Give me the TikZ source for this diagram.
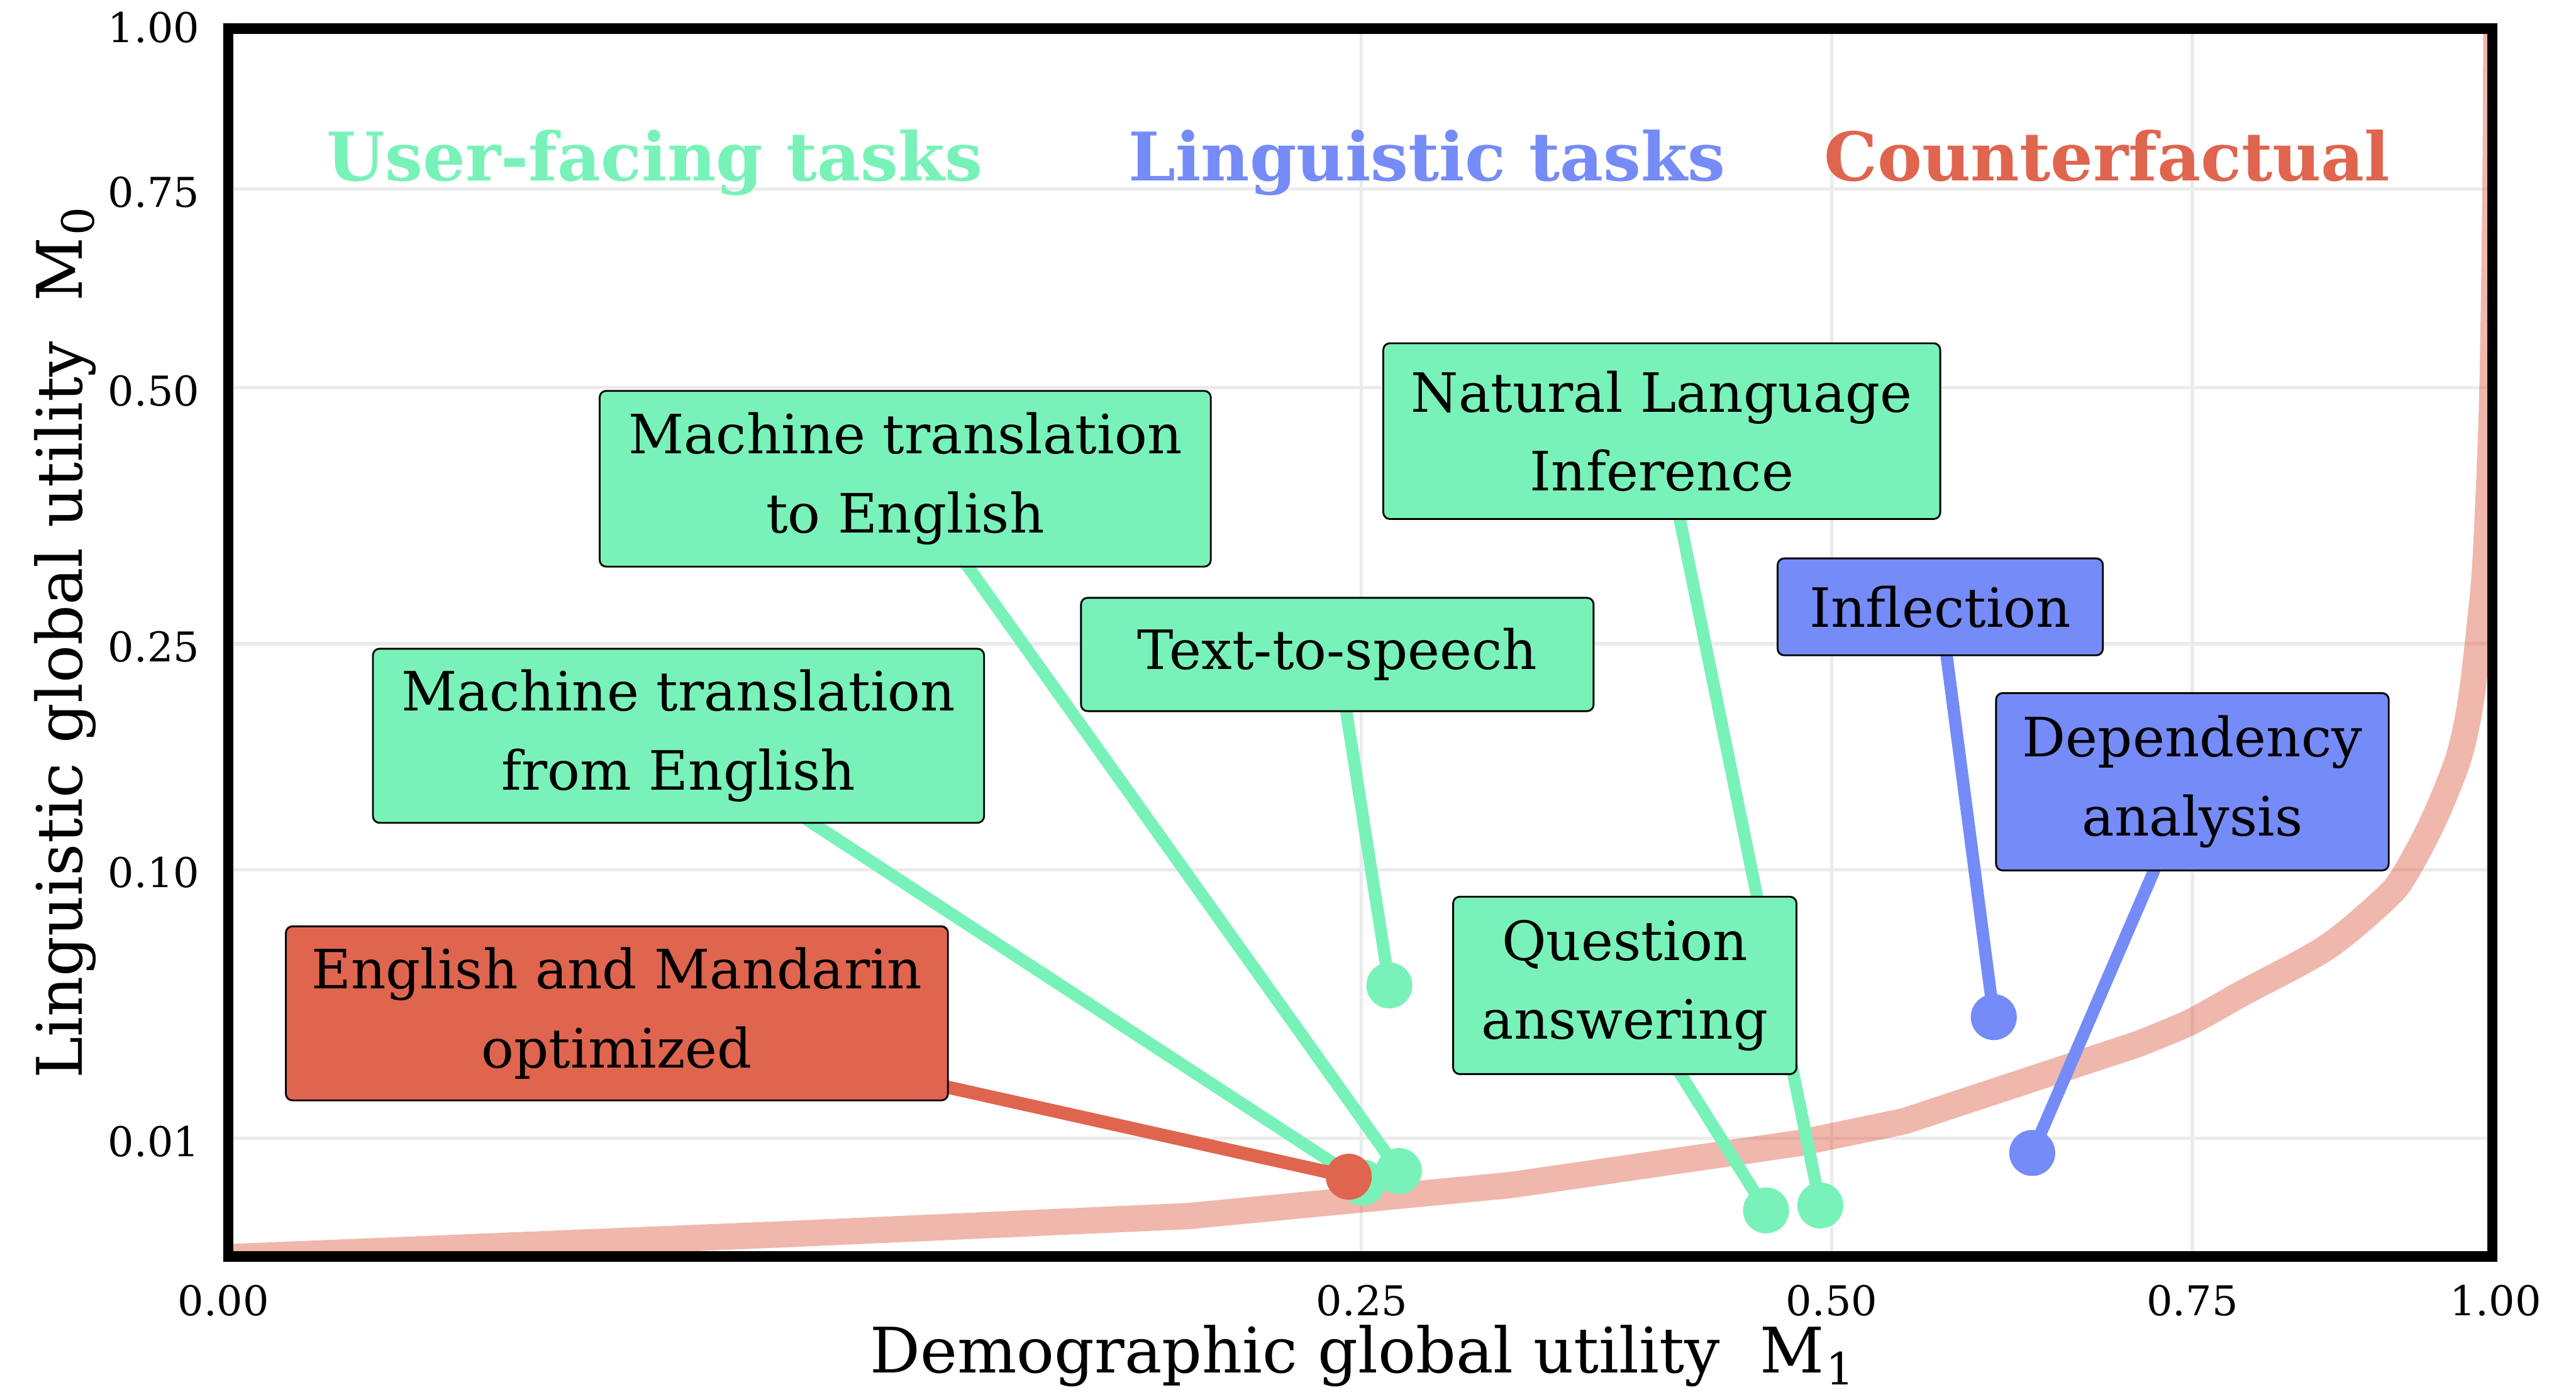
\documentclass[tikz,border=0pt]{standalone}
\usepackage{fontspec}
\setmainfont{DejaVu Serif}
\definecolor{ufc}{HTML}{78F2B9}
\definecolor{lgc}{HTML}{758BF7}
\definecolor{cfc}{HTML}{DF654E}
\definecolor{gridc}{HTML}{EBEBEB}
\pgfdeclarelayer{gridlayer}
\pgfdeclarelayer{linklayer}
\pgfsetlayers{gridlayer,linklayer,main}
% lowered index after the metric letter M
\newcommand{\metricidx}[1]{\kern1pt\raisebox{-0.19em}{\fontsize{27}{30}\selectfont #1}}
\tikzset{
  gridline/.style={draw=gridc, line width=2pt},
  frontier/.style={draw=cfc, draw opacity=0.47, line width=16pt, line join=round},
  labelbox/.style={draw=black, line width=1.1pt, rounded corners=4pt, inner sep=0pt,
    align=center, text=black, font=\fontsize{33}{48}\selectfont},
  boxuf/.style={labelbox, fill=ufc},
  boxlg/.style={labelbox, fill=lgc},
  boxcf/.style={labelbox, fill=cfc},
  marker/.style={circle, inner sep=0pt, minimum size=28pt, draw=none},
  dotuf/.style={marker, fill=ufc},
  dotlg/.style={marker, fill=lgc},
  dotcf/.style={marker, fill=cfc},
  linkuf/.style={draw=ufc, line width=7.5pt},
  linklg/.style={draw=lgc, line width=7.5pt},
  linkcf/.style={draw=cfc, line width=8pt},
  groupttl/.style={anchor=base, font=\bfseries\fontsize{40.8}{48}\selectfont},
  ytick/.style={anchor=base east, font=\fontsize{25}{30}\selectfont},
  xtick/.style={anchor=base, font=\fontsize{25}{30}\selectfont},
  axisttl/.style={anchor=base, font=\fontsize{38.2}{46}\selectfont}
}
\begin{document}
\begin{tikzpicture}[x=1pt, y=-1pt]
\useasboundingbox (0,0) rectangle (1568,850.4);

% grid and the counterfactual frontier
\begin{pgfonlayer}{gridlayer}
  \foreach \yy in {115,236,392,529.5,693}
    \draw[gridline] (139,\yy) -- (1517,\yy);
  \foreach \xx in {828.5,1115,1334.5}
    \draw[gridline] (\xx,17.5) -- (\xx,765);
  \begin{scope}
    \clip (139,17.5) rectangle (1517,765);
    \draw[frontier] (120,767) -- (139,765.5) -- (478,751.5) -- (724,740.4)
      -- (920,721.5) -- (1095,696) -- (1159,682.7) -- (1300.5,636)
      -- plot[smooth, tension=0.5] coordinates {(1300.5,636) (1333,622.5)
      (1364.5,605) (1416,577) (1452,547) (1464,532) (1481,500) (1496,463)
      (1503.5,430) (1509,385) (1513,340) (1517,242) (1519,110) (1519.5,17)
      (1519.5,0)};
  \end{scope}
\end{pgfonlayer}

% data points
\node[dotuf] (d-tts)   at (845.7,600) {};
\node[dotuf] (d-mtfr)  at (829.5,720) {};
\node[dotcf] (d-engzh) at (821,716.5) {};
\node[dotuf] (d-mtto)  at (851.5,713) {};
\node[dotuf] (d-qa)    at (1075,737) {};
\node[dotuf] (d-nli)   at (1108,734) {};
\node[dotlg] (d-infl)  at (1213.6,619.3) {};
\node[dotlg] (d-dep)   at (1237,702) {};

% labels
\node[boxuf, minimum width=372pt, minimum height=107pt] (b-mtto) at (551,291.5) {Machine translation\\to English};
\node[boxuf, minimum width=372pt, minimum height=106pt] (b-mtfr) at (413,448) {Machine translation\\from English};
\node[boxuf, minimum width=312pt, minimum height=69pt] (b-tts) at (814,398.5) {Text-to-speech};
\node[boxuf, minimum width=339pt, minimum height=107pt] (b-nli) at (1011.5,262.5) {Natural Language\\Inference};
\node[boxuf, minimum width=209pt, minimum height=108pt] (b-qa) at (989,600) {Question\\answering};
\node[boxlg, minimum width=198pt, minimum height=59pt] (b-infl) at (1181,369.5) {Inflection};
\node[boxlg, minimum width=239pt, minimum height=108pt] (b-dep) at (1334.5,476) {Dependency\\analysis};
\node[boxcf, minimum width=403pt, minimum height=106pt] (b-engzh) at (375.5,617) {English and Mandarin\\optimized};

% leader lines from each label to its point
\begin{pgfonlayer}{linklayer}
  \draw[linkuf] (b-mtto.center) -- (d-mtto.center);
  \draw[linkuf] (b-mtfr.center) -- (d-mtfr.center);
  \draw[linkuf] (b-tts.center) -- (d-tts.center);
  \draw[linkuf] (b-nli.center) -- (d-nli.center);
  \draw[linkuf] (b-qa.center) -- (d-qa.center);
  \draw[linklg] (b-infl.center) -- (d-infl.center);
  \draw[linklg] (b-dep.center) -- (d-dep.center);
  \draw[linkcf] (b-engzh.center) -- (d-engzh.center);
\end{pgfonlayer}

% group headings
\node[groupttl, text=ufc] (t-uf) at (398.5,110) {User-facing tasks};
\node[groupttl, text=lgc] (t-lg) at (868.5,110) {Linguistic tasks};
\node[groupttl, text=cfc] (t-cf) at (1282.5,110) {Counterfactual};

% tick labels
\node[ytick] (y100) at (125,26) {1.00};
\node[ytick] (y075) at (125,126) {0.75};
\node[ytick] (y050) at (125,247) {0.50};
\node[ytick] (y025) at (125,403) {0.25};
\node[ytick] (y010) at (125,540.5) {0.10};
\node[ytick] (y001) at (125,704) {0.01};
\node[xtick] (x000) at (136,801) {0.00};
\node[xtick] (x025) at (829,801) {0.25};
\node[xtick] (x050) at (1115,801) {0.50};
\node[xtick] (x075) at (1334.5,801) {0.75};
\node[xtick] (x100) at (1519,801) {1.00};

% axis titles
\node[axisttl] (xttl) at (829,836) {Demographic global utility\ \ M\metricidx{1}};
\node[axisttl, rotate=90] (yttl) at (50,391.5) {Linguistic global utility\ \ M\metricidx{0}};

% plot frame
\draw[line width=6.3pt] (139,17.5) rectangle (1517,765);
\end{tikzpicture}
\end{document}
